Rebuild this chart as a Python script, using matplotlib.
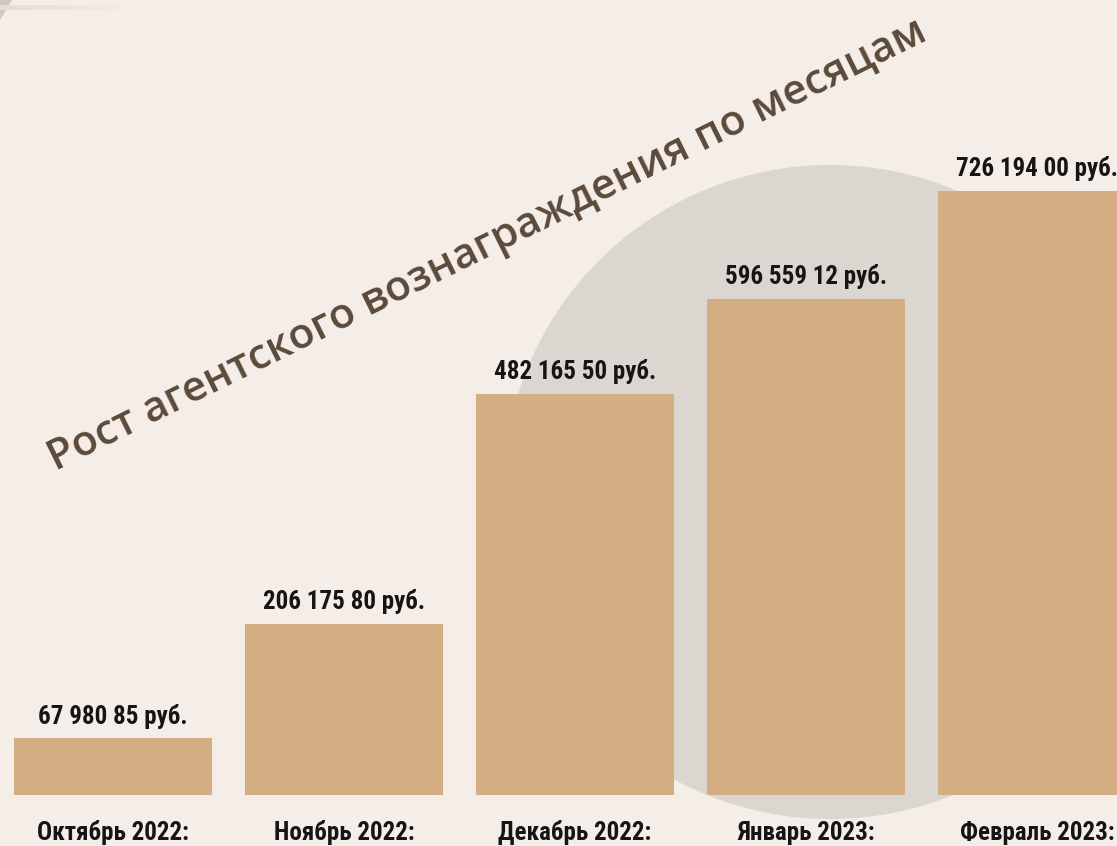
import matplotlib.pyplot as plt
from matplotlib import font_manager
from matplotlib.patches import Circle, Polygon, Rectangle

months = ["Октябрь 2022:", "Ноябрь 2022:", "Декабрь 2022:", "Январь 2023:", "Февраль 2023:"]
values = [67980.85, 206175.80, 482165.50, 596559.12, 726194.00]
value_labels = ["67 980 85 руб.", "206 175 80 руб.", "482 165 50 руб.", "596 559 12 руб.", "726 194 00 руб."]
title = "Рост агентского вознаграждения по месяцам"

bg = "#f5ede8"
bar_color = "#d4ae82"

# pick a condensed bold face if one is installed
names = {f.name for f in font_manager.fontManager.ttflist}
label_font = [n for n in ["Roboto Condensed", "DejaVu Sans Condensed", "Liberation Sans Narrow"] if n in names]
label_font += ["Roboto", "DejaVu Sans"]
print(label_font)

fig = plt.figure(figsize=(11.17, 8.46), dpi=100)
fig.patch.set_facecolor(bg)

# decorations in pixel coordinates of the figure
deco = fig.add_axes([0, 0, 1, 1])
deco.set_xlim(0, 1117)
deco.set_ylim(846, 0)
deco.axis("off")
deco.add_patch(Circle((830, 492), 327, color="#dbd6d0", lw=0))
deco.add_patch(Polygon([(0, 0), (12, 0), (0, 20)], color="#cfc9c2", lw=0))
for i in range(20):
    deco.add_patch(Rectangle((i * 6, 5), 6, 5, color="#e6ddd5", alpha=1 - i / 22, lw=0))

ax = fig.add_axes([0, 0, 1, 1])
ax.patch.set_alpha(0)
ax.set_xlim(-113 / 231, (1117 - 113) / 231)
scale = 726194 / 604
ax.set_ylim(-51 * scale, 795 * scale)
ax.axis("off")

x = range(len(values))
ax.bar(x, values, width=198 / 231, color=bar_color, zorder=2)

for i, (v, lab) in enumerate(zip(values, value_labels)):
    ax.annotate(lab, (i, v), xytext=(0, 7), textcoords="offset points",
                ha="center", va="bottom", fontsize=18, fontweight="bold",
                family=label_font, color="#151515")
    ax.annotate(months[i], (i, 0), xytext=(0, -27), textcoords="offset points",
                ha="center", va="center", fontsize=18, fontweight="bold",
                family=label_font, color="#151515")

fig.text(0.436, 0.71, title, rotation=26.3, ha="center", va="center",
         fontsize=30.5, fontweight="semibold", family=["Open Sans", "DejaVu Sans"],
         color="#5b4a3a", rotation_mode="anchor")

fig.savefig("out.png", dpi=100, facecolor=bg)
